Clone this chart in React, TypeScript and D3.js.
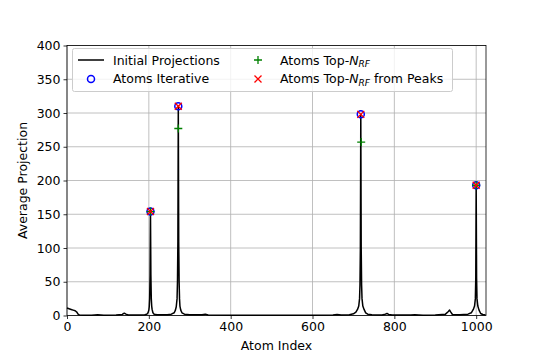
import React, { useEffect, useRef } from 'react';
import * as d3 from 'd3';

// initial projection curve as [atom index, value]
const projection: [number, number][] = [
  [0, 11], [5, 10], [10, 9], [15, 8], [20, 7], [24, 5], [27, 2], [30, 0.8], [40, 0.3],
  [60, 0.5], [75, 1], [90, 0.5], [120, 0.6], [135, 1.5], [140, 3.5], [144, 2], [150, 0.8],
  [175, 0.8], [190, 1.2], [195, 2], [198, 4], [200, 8], [201, 13], [202, 25], [203, 60],
  [204, 154], [205, 60], [206, 25], [207, 14], [208, 9], [210, 4], [213, 2], [220, 1],
  [245, 1], [255, 2], [262, 4], [265, 8], [267, 13], [269, 25], [270, 50], [271, 110],
  [272, 310], [273, 110], [274, 50], [275, 25], [276, 14], [278, 8], [281, 4], [287, 2],
  [300, 1], [330, 1.2], [338, 2], [345, 0.8], [400, 0.3], [500, 0.3], [600, 0.3],
  [650, 0.8], [660, 1.5], [670, 0.8], [690, 1.2], [700, 2.5], [706, 5], [710, 9],
  [713, 14], [715, 25], [716, 45], [717, 100], [718, 298], [719, 100], [720, 45], [721, 25],
  [723, 14], [726, 9], [730, 4], [735, 2], [745, 1], [770, 0.8], [778, 2], [782, 3],
  [786, 1.5], [795, 0.8], [840, 0.6], [850, 1.2], [870, 0.5], [900, 0.8], [925, 2],
  [932, 6], [935, 8], [938, 5], [942, 1.5], [960, 1], [980, 2], [988, 4], [993, 9],
  [996, 14], [998, 25], [999, 55], [1000, 193], [1001, 55], [1002, 25], [1004, 14],
  [1007, 8], [1011, 3], [1016, 1.5], [1023, 0.8],
];

const iterIdx = [204, 272, 718, 1000];
const iterVal = [154, 310, 298, 193];
const topIdx = [204, 272, 719, 1000];
const topVal = [154, 277, 257, 193];
const peakIdx = [204, 272, 718, 1000];
const peakVal = [154, 310, 298, 193];

const xTicks = [0, 200, 400, 600, 800, 1000];
const yTicks = [0, 50, 100, 150, 200, 250, 300, 350, 400];

const W = 540;
const H = 360;
const font = 'DejaVu Sans, sans-serif';
const fs = 12.5;

const App = () => {
  const svgRef = useRef<SVGSVGElement>(null);

  useEffect(() => {
    const svg = d3.select(svgRef.current);
    svg.selectAll('*').remove();

    const left = 67, right = 486, top = 45.5, bottom = 315.5;
    const x = d3.scaleLinear().domain([0, 1024]).range([left, right]);
    const y = d3.scaleLinear().domain([0, 400]).range([bottom, top]);

    svg.append('rect').attr('width', W).attr('height', H).attr('fill', 'white');

    // grid
    const grid = svg.append('g').attr('stroke', '#b0b0b0').attr('stroke-width', 0.8);
    xTicks.forEach(t => grid.append('line')
      .attr('x1', x(t)).attr('x2', x(t)).attr('y1', top).attr('y2', bottom));
    yTicks.forEach(t => grid.append('line')
      .attr('x1', left).attr('x2', right).attr('y1', y(t)).attr('y2', y(t)));

    const plot = svg.append('g');
    const line = d3.line<[number, number]>().x(d => x(d[0])).y(d => y(d[1]));
    plot.append('path')
      .attr('d', line(projection))
      .attr('fill', 'none')
      .attr('stroke', 'black')
      .attr('stroke-width', 1.5)
      .attr('stroke-linejoin', 'round');

    const circles = (g, cx, cy) => g.append('circle')
      .attr('cx', cx).attr('cy', cy).attr('r', 3.5)
      .attr('fill', 'none').attr('stroke', 'blue').attr('stroke-width', 1.5);
    const plus = (g, cx, cy) => g.append('path')
      .attr('d', `M${cx - 4},${cy}H${cx + 4}M${cx},${cy - 4}V${cy + 4}`)
      .attr('stroke', 'green').attr('stroke-width', 1.3);
    const cross = (g, cx, cy) => g.append('path')
      .attr('d', `M${cx - 3.5},${cy - 3.5}L${cx + 3.5},${cy + 3.5}M${cx - 3.5},${cy + 3.5}L${cx + 3.5},${cy - 3.5}`)
      .attr('stroke', 'red').attr('stroke-width', 1.3);

    iterIdx.forEach((d, i) => circles(plot, x(d), y(iterVal[i])));
    topIdx.forEach((d, i) => plus(plot, x(d), y(topVal[i])));
    peakIdx.forEach((d, i) => cross(plot, x(d), y(peakVal[i])));

    // axes
    const xAxis = svg.append('g')
      .attr('transform', `translate(0,${bottom})`)
      .call(d3.axisBottom(x).tickValues(xTicks).tickFormat(d3.format('d')).tickSize(3.5).tickPadding(3));
    const yAxis = svg.append('g')
      .attr('transform', `translate(${left},0)`)
      .call(d3.axisLeft(y).tickValues(yTicks).tickFormat(d3.format('d')).tickSize(3.5).tickPadding(3));
    [xAxis, yAxis].forEach(a => {
      a.select('.domain').remove();
      a.selectAll('text').attr('font-family', font).attr('font-size', fs).attr('fill', 'black');
      a.selectAll('line').attr('stroke', 'black').attr('stroke-width', 0.8);
    });

    svg.append('rect')
      .attr('x', left).attr('y', top)
      .attr('width', right - left).attr('height', bottom - top)
      .attr('fill', 'none').attr('stroke', 'black').attr('stroke-width', 0.8);

    svg.append('text')
      .attr('x', (left + right) / 2).attr('y', 350)
      .attr('text-anchor', 'middle')
      .attr('font-family', font).attr('font-size', fs)
      .text('Atom Index');
    svg.append('text')
      .attr('transform', `translate(27,${(top + bottom) / 2}) rotate(-90)`)
      .attr('text-anchor', 'middle')
      .attr('font-family', font).attr('font-size', fs)
      .text('Average Projection');

    // legend
    const lg = svg.append('g').attr('font-family', font).attr('font-size', fs);
    lg.append('rect')
      .attr('x', 72.5).attr('y', 48.5).attr('width', 380).attr('height', 43).attr('rx', 2)
      .attr('fill', 'white').attr('fill-opacity', 0.8)
      .attr('stroke', '#cccccc').attr('stroke-width', 1);
    lg.append('line').attr('x1', 78).attr('x2', 104).attr('y1', 60).attr('y2', 60)
      .attr('stroke', 'black').attr('stroke-width', 1.5);
    lg.append('text').attr('x', 113).attr('y', 64.5).text('Initial Projections');
    circles(lg, 91, 79);
    lg.append('text').attr('x', 113).attr('y', 83).text('Atoms Iterative');
    plus(lg, 258, 60);
    const t1 = lg.append('text').attr('x', 280).attr('y', 64.5);
    t1.append('tspan').text('Atoms Top-');
    t1.append('tspan').attr('font-style', 'italic').text('N');
    t1.append('tspan').attr('font-style', 'italic').attr('font-size', 9).attr('dy', 2.5).text('RF');
    cross(lg, 258, 79);
    const t2 = lg.append('text').attr('x', 280).attr('y', 83);
    t2.append('tspan').text('Atoms Top-');
    t2.append('tspan').attr('font-style', 'italic').text('N');
    t2.append('tspan').attr('font-style', 'italic').attr('font-size', 9).attr('dy', 2.5).text('RF');
    t2.append('tspan').attr('dy', -2.5).text(' from Peaks');
  }, []);

  return <svg ref={svgRef} width={W} height={H}
    style={{ position: 'absolute', left: 0, top: 0 }} />;
};

export default App;
